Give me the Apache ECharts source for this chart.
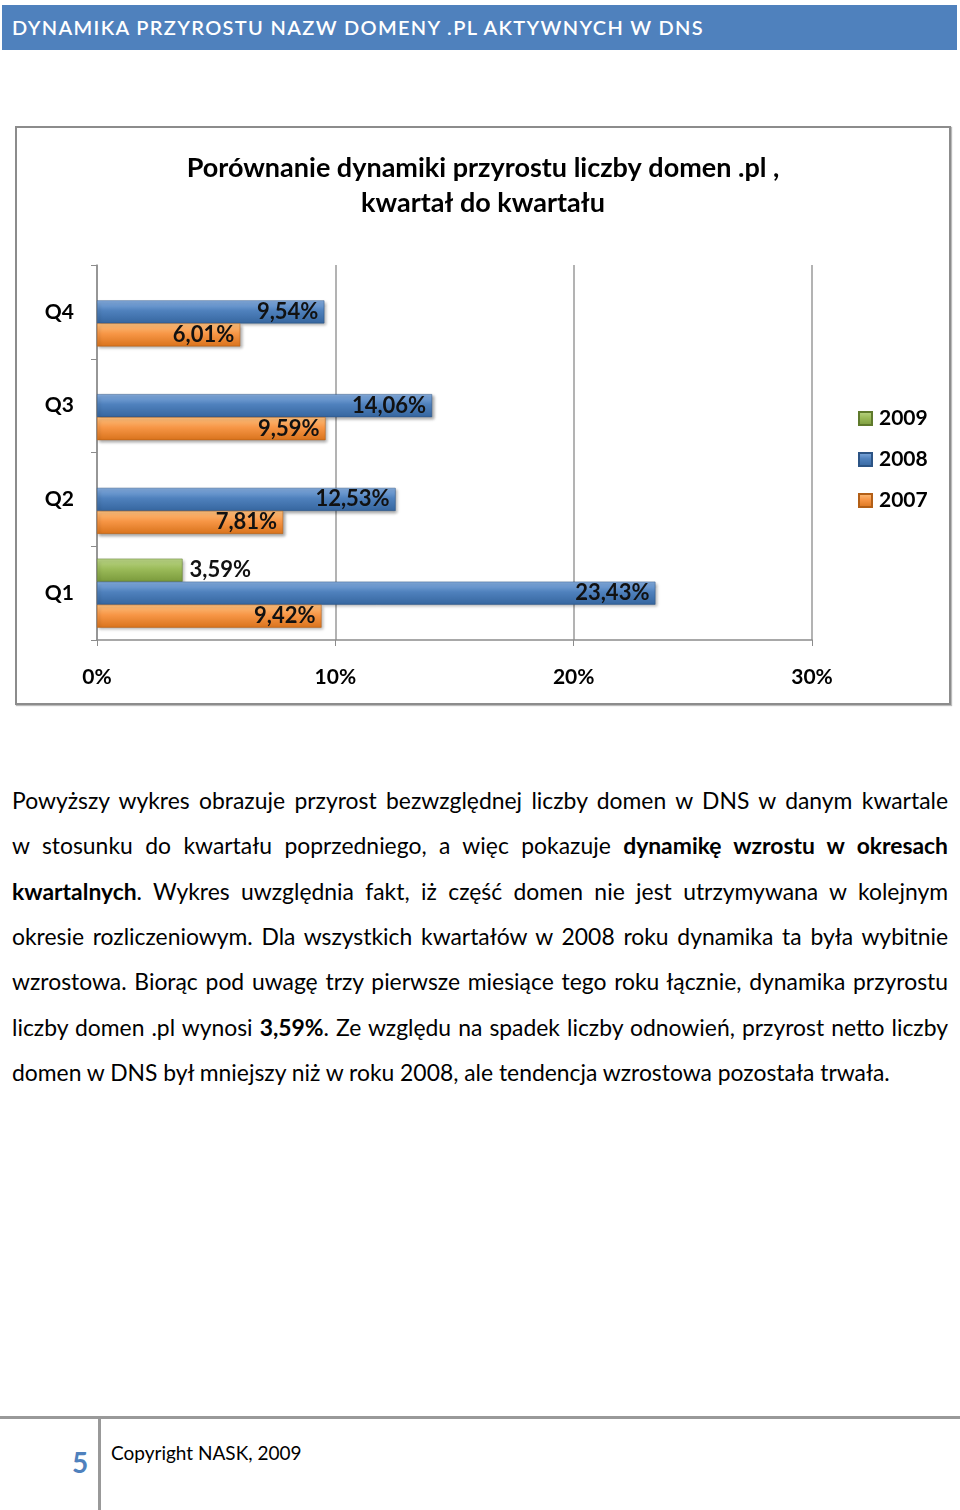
<!DOCTYPE html>
<html>
<head>
<meta charset="utf-8">
<script src="https://cdn.jsdelivr.net/npm/echarts@6/dist/echarts.min.js"></script>
<style>
  html, body { margin:0; padding:0; background:#fff; }
  body { width:960px; height:1510px; position:relative; overflow:hidden; font-family: Lato, "Open Sans", sans-serif; color:#000; }
  #hdr { position:absolute; left:2px; top:5px; width:955px; height:45px; background:#4F81BD; }
  #hdrText { position:absolute; left:10px; top:22px; transform:translateY(-50%); color:#fff; font-size:20px; font-weight:600; white-space:nowrap; letter-spacing:1px; }
  #frame { position:absolute; left:15px; top:126px; width:936px; height:579px; box-sizing:border-box; border:2px solid #8c8c8c; box-shadow:1px 1px 1px #bbb; }
  #chart { position:absolute; left:15px; top:126px; width:936px; height:579px; }
  .ln { position:absolute; left:12px; width:936px; height:45px; line-height:45px; white-space:nowrap; font-size:21px; }
  .ln span.t { display:inline-block; }
  #foot1 { position:absolute; left:0; top:1416px; width:960px; height:3px; background:#999; }
  #foot2 { position:absolute; left:98px; top:1419px; width:3px; height:91px; background:#999; }
  #pg { position:absolute; left:66px; top:1445px; width:28px; text-align:center; color:#4F81BD; font-weight:700; font-size:28px; line-height:34px; }
  #copy { position:absolute; left:111px; top:1441px; font-size:19px; line-height:24px; }
</style>
</head>
<body>
<div id="hdr"><div id="hdrText">DYNAMIKA PRZYROSTU NAZW DOMENY .PL AKTYWNYCH W DNS</div></div>
<div id="frame"></div>
<div id="chart"></div>

<div id="para">
  <div class="ln" style="top:778px"><span class="t">Powyższy wykres obrazuje przyrost bezwzględnej liczby domen w DNS w danym kwartale</span></div>
  <div class="ln" style="top:823px"><span class="t">w stosunku do kwartału poprzedniego, a więc pokazuje <b>dynamikę wzrostu w okresach</b></span></div>
  <div class="ln" style="top:869px"><span class="t"><b>kwartalnych</b>. Wykres uwzględnia fakt, iż część domen nie jest utrzymywana w kolejnym</span></div>
  <div class="ln" style="top:914px"><span class="t">okresie rozliczeniowym. Dla wszystkich kwartałów w 2008 roku dynamika ta była wybitnie</span></div>
  <div class="ln" style="top:959px"><span class="t">wzrostowa. Biorąc pod uwagę trzy pierwsze miesiące tego roku łącznie, dynamika przyrostu</span></div>
  <div class="ln" style="top:1005px"><span class="t">liczby domen .pl wynosi <b>3,59%</b>. Ze względu na spadek liczby odnowień, przyrost netto liczby</span></div>
  <div class="ln last" style="top:1050px"><span class="t">domen w DNS był mniejszy niż w roku 2008, ale tendencja wzrostowa pozostała trwała.</span></div>
</div>

<div id="foot1"></div>
<div id="foot2"></div>
<div id="pg">5</div>
<div id="copy">Copyright NASK, 2009</div>

<script>
// ---- data ----
var categories = ['Q1', 'Q2', 'Q3', 'Q4'];
var seriesNames = ['2009', '2008', '2007'];
var values2009 = [3.59, null, null, null];
var values2008 = [23.43, 12.53, 14.06, 9.54];
var values2007 = [9.42, 7.81, 9.59, 6.01];
var xTicks = [0, 10, 20, 30];

// ---- text fitting (layout only) ----
(function () {
  var lines = document.querySelectorAll('.ln');
  var last = lines[lines.length - 1].querySelector('.t');
  var w = last.getBoundingClientRect().width;
  var fs = 21 * 878 / w;
  for (var i = 0; i < lines.length; i++) lines[i].style.fontSize = fs + 'px';
  for (var j = 0; j < lines.length - 1; j++) {
    var t = lines[j].querySelector('.t');
    var nw = t.getBoundingClientRect().width;
    var spaces = (t.textContent.match(/ /g) || []).length;
    t.style.wordSpacing = ((936 - nw) / spaces) + 'px';
  }
  var h = document.getElementById('hdrText');
  h.style.letterSpacing = '0px';
  var hw = h.getBoundingClientRect().width;
  var n = h.textContent.length;
  h.style.letterSpacing = ((692 - hw) / n) + 'px';
})();

function grad(top, mid, bot) {
  return new echarts.graphic.LinearGradient(0, 0, 0, 1, [
    { offset: 0, color: top }, { offset: 0.45, color: mid }, { offset: 1, color: bot }
  ]);
}
function fmt(p) {
  return p.value == null ? '' : p.value.toFixed(2).replace('.', ',') + '%';
}
var labelFont = { fontFamily: 'Lato', fontWeight: 'bold', fontSize: 22, color: '#111' };

var chart = echarts.init(document.getElementById('chart'), null, { renderer: 'canvas' });
var shadow = { shadowColor: 'rgba(0,0,0,0.35)', shadowBlur: 3, shadowOffsetX: 2, shadowOffsetY: 2 };

chart.setOption({
  animation: false,
  title: {
    text: 'Porównanie dynamiki przyrostu liczby domen .pl ,\nkwartał do kwartału',
    left: 'center', top: 20,
    textStyle: { fontFamily: 'Lato', fontWeight: 'bold', fontSize: 27, lineHeight: 35, color: '#000' }
  },
  legend: {
    orient: 'vertical', left: 838, top: 277,
    itemWidth: 13, itemHeight: 13, itemGap: 20, icon: 'rect',
    data: ['2009', '2008', '2007'],
    textStyle: { fontFamily: 'Lato', fontWeight: 'bold', fontSize: 21, color: '#000', padding: [0, 0, 0, 2] }
  },
  grid: { left: 82, right: 139, top: 139, bottom: 65, containLabel: false },
  xAxis: {
    type: 'value', min: xTicks[0], max: xTicks[xTicks.length - 1], interval: 10,
    axisLine: { show: true, lineStyle: { color: '#8c8c8c', width: 1.5 } },
    axisTick: { show: true, length: 6, lineStyle: { color: '#8c8c8c' } },
    splitLine: { show: true, lineStyle: { color: '#9a9a9a', width: 1.5 } },
    axisLabel: { formatter: '{value}%', margin: 27, fontFamily: 'Lato', fontWeight: 'bold', fontSize: 21, color: '#000' }
  },
  yAxis: {
    type: 'category', data: categories,
    axisLine: { show: true, lineStyle: { color: '#8c8c8c', width: 1.5 } },
    axisTick: { show: true, length: 6, lineStyle: { color: '#8c8c8c' } },
    axisLabel: { margin: 23, fontFamily: 'Lato', fontWeight: 'bold', fontSize: 21, color: '#000' }
  },
  series: [
    {
      name: seriesNames[0], type: 'bar', data: values2009, barWidth: 23, barGap: '0%',
      itemStyle: Object.assign({ color: grad('#bcd688', '#9bbb59', '#7a9a3c'), borderColor: '#5f7a2c', borderWidth: 0.5 }, shadow),
      label: Object.assign({ show: true, position: 'right', distance: 7, formatter: fmt }, labelFont)
    },
    {
      name: seriesNames[1], type: 'bar', data: values2008, barWidth: 23, barGap: '0%',
      itemStyle: Object.assign({ color: grad('#86aee0', '#4f81bd', '#36669f'), borderColor: '#2c5485', borderWidth: 0.5 }, shadow),
      label: Object.assign({ show: true, position: 'insideRight', distance: 6, formatter: fmt }, labelFont)
    },
    {
      name: seriesNames[2], type: 'bar', data: values2007, barWidth: 23, barGap: '0%',
      itemStyle: Object.assign({ color: grad('#fcc07e', '#f79646', '#d9731c'), borderColor: '#b35f16', borderWidth: 0.5 }, shadow),
      label: Object.assign({ show: true, position: 'insideRight', distance: 6, formatter: fmt }, labelFont)
    }
  ]
});
</script>
</body>
</html>
